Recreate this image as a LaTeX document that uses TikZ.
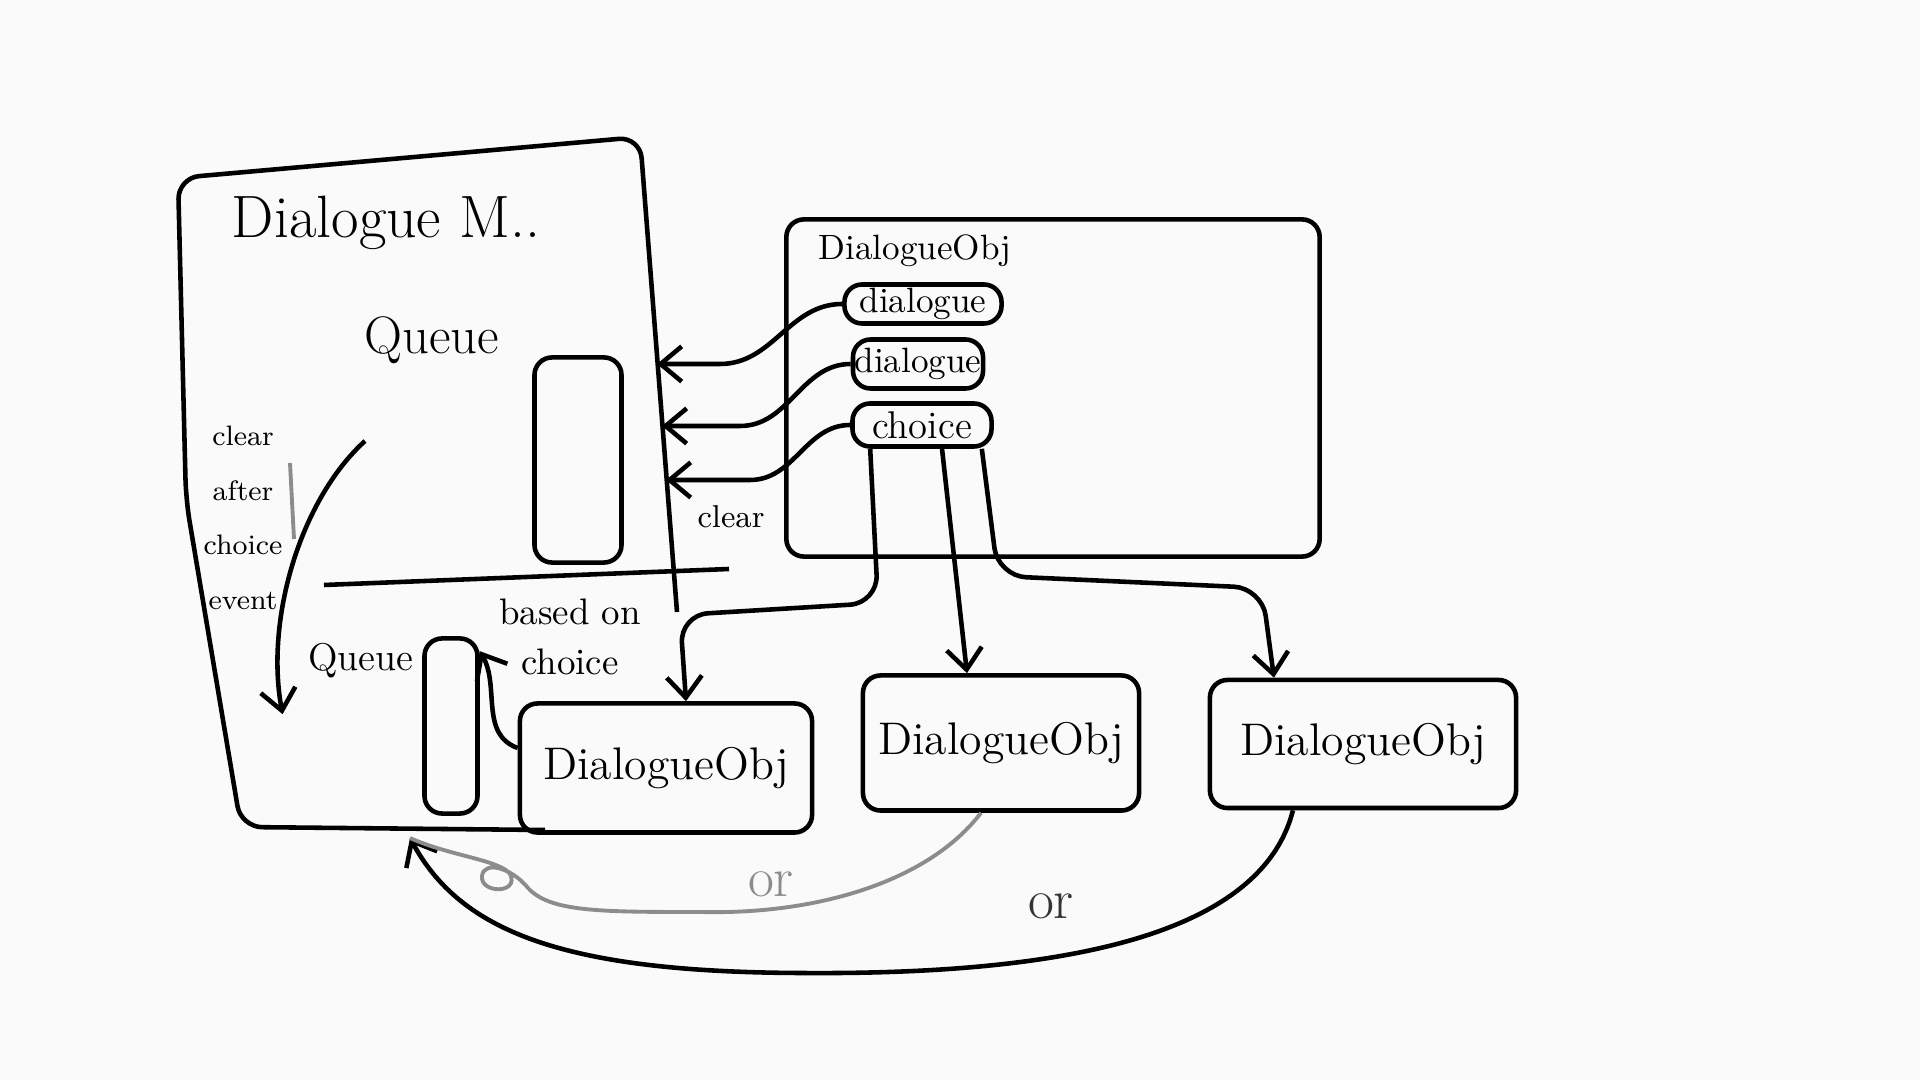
\documentclass[tikz,border=0pt]{standalone}
\usetikzlibrary{positioning, arrows.meta}

\begin{document}
\begin{tikzpicture}[x=0.01cm, y=-0.01cm, line width=1.3pt, >={Straight Barb[length=6pt, width=10pt]},
    box/.style={draw, line width=1.3pt, rounded corners=5pt, inner sep=0pt},
    word/.style={inner sep=1pt},
    faint/.style={draw=black!45, line width=1.1pt}]

        \fill[black!2] (0,0) rectangle (1920,1080);
        \useasboundingbox (0,0) rectangle (1920,1080);

        % Dialogue manager
        \draw[rounded corners=6pt] (677,612) -- (640,137) -- (178,178) -- (186,500) -- (241,827) -- (545,830);
        \draw (324,585) -- (729,569);
        \node[word, font=\fontsize{17}{20}\selectfont] (mgrtitle) at (386,223) {Dialogue M..};
        \node[word, font=\fontsize{15}{18}\selectfont] (q1lbl) at (432,340) {Queue};
        \node[box, minimum width=0.87cm, minimum height=2.05cm] (q1) at (578,460) {};
        \coordinate (in1) at (657,364);
        \coordinate (in2) at (662,426);
        \coordinate (in3) at (666,480);
        \coordinate (in4) at (410,838);

        % Lower queue
        \node[word, align=center, font=\fontsize{8}{15.5}\selectfont] (clearafter) at (243,518) {clear\\after\\choice\\event};
        \draw[faint] (290,463) -- (294,539);
        \node[word, font=\fontsize{11}{13}\selectfont] (q2lbl) at (361,661) {Queue};
        \node[box, minimum width=0.53cm, minimum height=1.75cm] (q2) at (451,726) {};
        \node[word, align=center, font=\fontsize{10.5}{14}\selectfont] (basedon) at (570,637) {based on\\choice};
        \coordinate (qfrom) at (365,441);
        \draw[->] (qfrom) .. controls (300,500) and (265,620) .. ([xshift=-0.2cm, yshift=-0.3cm]q2lbl.south west);

        % Dialogue object
        \node[box, minimum width=5.33cm, minimum height=3.37cm] (obj) at (1053,388) {};
        \node[word, font=\fontsize{10}{12}\selectfont] (objtitle) at (915,251) {DialogueObj};
        \node[box, minimum width=1.57cm, minimum height=0.39cm, font=\fontsize{10}{12}\selectfont] (dlg1) at (923,304) {dialogue};
        \node[box, minimum width=1.30cm, minimum height=0.49cm, font=\fontsize{10}{12}\selectfont] (dlg2) at (918,364) {dialogue};
        \node[box, minimum width=1.39cm, minimum height=0.43cm, font=\fontsize{11}{13}\selectfont] (chc) at (922,425) {choice};
        \draw[->] (dlg1.west) to[out=180, in=0] (720,364) -- (in1);
        \draw[->] (dlg2.west) to[out=180, in=0] (740,426) -- (in2);
        \draw[->] (chc.west) to[out=180, in=0] (750,480) -- (in3);
        \node[word, font=\fontsize{9}{11}\selectfont] (clearlbl) at (731,517) {clear};

        % Next dialogue objects
        \node[box, minimum width=2.92cm, minimum height=1.29cm, font=\fontsize{13}{15}\selectfont] (dobj1) at (666,768) {DialogueObj};
        \node[box, minimum width=2.76cm, minimum height=1.35cm, font=\fontsize{13}{15}\selectfont] (dobj2) at (1001,743) {DialogueObj};
        \node[box, minimum width=3.06cm, minimum height=1.28cm, font=\fontsize{13}{15}\selectfont] (dobj3) at (1363,744) {DialogueObj};
        \draw[->, rounded corners=8pt] ([xshift=0.2cm]chc.south west) -- (878,603) -- (680,615) -- ([xshift=0.2cm]dobj1.north);
        \draw[->] ([xshift=0.2cm]chc.south) -- ([xshift=-0.34cm]dobj2.north);
        \draw[->, rounded corners=8pt] ([xshift=-0.12cm]chc.south east) -- (998,576) -- (1262,588) -- ([xshift=-0.89cm]dobj3.north);
        \draw[->] ([yshift=0.2cm]dobj1.west) to[out=160, in=-60] ([yshift=-0.15cm]q2.north east);

        % Back to the manager
        \draw[->] ([xshift=-0.7cm]dobj3.south) .. controls (1260,940) and (1050,975) .. (800,973) .. controls (560,972) and (460,930) .. (in4);
        \draw[faint] ([xshift=-0.2cm]dobj2.south) .. controls (930,880) and (820,915) .. (700,912) .. controls (600,912) and (550,912) .. (528,888) .. controls (512,868) and (484,860) .. (482,876) .. controls (480,894) and (520,894) .. (510,874) .. controls (500,860) and (450,856) .. (in4);
        \node[word, text=black!45, font=\fontsize{16}{18}\selectfont] (or1) at (771,884) {or};
        \node[word, text=black!80, font=\fontsize{16}{18}\selectfont] (or2) at (1051,906) {or};

    \end{tikzpicture}
\end{document}
